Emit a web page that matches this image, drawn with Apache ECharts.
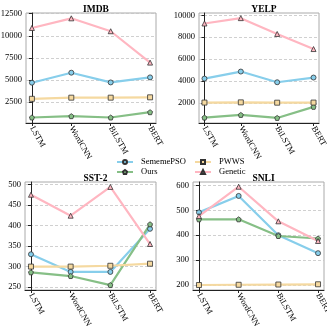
<!DOCTYPE html>
<html>
<head>
<meta charset="utf-8">
<script src="https://cdn.jsdelivr.net/npm/echarts@6/dist/echarts.min.js"></script>
<style>
  html, body { margin: 0; padding: 0; background: #fff; }
  #main { width: 327px; height: 329px; }
</style>
</head>
<body>
<div id="main"></div>
<script>
var categories = ["LSTM", "WordCNN", "BiLSTM", "BERT"];

// IMDB
var imdbSememePSO = [4700, 5830, 4730, 5300];
var imdbPWWS = [2880, 3010, 3010, 3050];
var imdbOurs = [770, 920, 770, 1370];
var imdbGenetic = [10880, 11970, 10510, 6970];
var imdbTicks = [2500, 5000, 7500, 10000, 12500];

// YELP
var yelpSememePSO = [4215, 4860, 3880, 4310];
var yelpPWWS = [2020, 2040, 2010, 2020];
var yelpOurs = [645, 890, 614, 1630];
var yelpGenetic = [9260, 9750, 8300, 6920];
var yelpTicks = [2000, 4000, 6000, 8000, 10000];

// SST-2
var sstSememePSO = [330, 287, 287, 392];
var sstPWWS = [300, 300, 302, 307];
var sstOurs = [286, 277, 255, 403];
var sstGenetic = [475, 424, 494, 355];
var sstTicks = [250, 300, 350, 400, 450, 500];

// SNLI
var snliSememePSO = [492, 558, 400, 328];
var snliPWWS = [200, 201, 202, 203];
var snliOurs = [464, 464, 397, 387];
var snliGenetic = [477, 595, 456, 377];
var snliTicks = [200, 300, 400, 500, 600];

var FONT = "Liberation Serif";
var pentagon = "path://M0,-10 L9.51,-3.09 L5.88,8.09 L-5.88,8.09 L-9.51,-3.09 Z";

var styles = {
  SememePSO: { color: "#87ceeb", symbol: "circle" },
  Ours: { color: "#86bf86", symbol: pentagon },
  PWWS: { color: "#f5d9a0", symbol: "rect" },
  Genetic: { color: "#ffb6c1", symbol: "triangle" }
};

var panels = [
  { title: "IMDB", grid: { left: 26, top: 13, right: 171, bottom: 206 }, yMin: 150, yMax: 12570, ticks: imdbTicks,
    data: { SememePSO: imdbSememePSO, Ours: imdbOurs, PWWS: imdbPWWS, Genetic: imdbGenetic } },
  { title: "YELP", grid: { left: 199, top: 13, right: 8, bottom: 206 }, yMin: 150, yMax: 10220, ticks: yelpTicks,
    data: { SememePSO: yelpSememePSO, Ours: yelpOurs, PWWS: yelpPWWS, Genetic: yelpGenetic } },
  { title: "SST-2", grid: { left: 25, top: 182, right: 171, bottom: 39 }, yMin: 243, yMax: 506, ticks: sstTicks,
    data: { SememePSO: sstSememePSO, Ours: sstOurs, PWWS: sstPWWS, Genetic: sstGenetic } },
  { title: "SNLI", grid: { left: 193, top: 182, right: 3, bottom: 39 }, yMin: 180, yMax: 614, ticks: snliTicks,
    data: { SememePSO: snliSememePSO, Ours: snliOurs, PWWS: snliPWWS, Genetic: snliGenetic } }
];

var order = ["SememePSO", "Ours", "PWWS", "Genetic"];
var catIdx = [0, 1, 2, 3];

var grids = [], xAxes = [], yAxes = [], titles = [], series = [];

panels.forEach(function (p, i) {
  grids.push({
    left: p.grid.left, top: p.grid.top, right: p.grid.right, bottom: p.grid.bottom,
    show: true, borderColor: "#aaa", borderWidth: 1, backgroundColor: "transparent",
    containLabel: false, outerBoundsMode: "none"
  });
  var cx = p.grid.left + (327 - p.grid.left - p.grid.right) / 2;
  titles.push({
    text: p.title, left: cx, top: p.grid.top - 13, textAlign: "center",
    textStyle: { fontFamily: FONT, fontWeight: "bold", fontSize: 9.5, color: "#000" }
  });
  xAxes.push({
    type: "value", gridIndex: i, min: -0.15, max: 3.15,
    axisLine: { show: true, lineStyle: { color: "#222", width: 1 } },
    axisTick: { show: true, length: 3, customValues: catIdx, lineStyle: { color: "#222" } },
    axisLabel: {
      customValues: catIdx, rotate: -60, margin: 4,
      fontFamily: FONT, fontSize: 8.5, color: "#000",
      formatter: function (v) { return categories[Math.round(v)]; }
    },
    splitLine: { show: false }
  });
  yAxes.push({
    type: "value", gridIndex: i, min: p.yMin, max: p.yMax,
    axisLine: { show: true, lineStyle: { color: "#222", width: 1 } },
    axisTick: { show: true, length: 3, customValues: p.ticks, lineStyle: { color: "#222" } },
    axisLabel: {
      customValues: p.ticks, margin: 4, fontFamily: FONT, fontSize: 8.5, color: "#000",
      formatter: function (v) { return String(v); }
    },
    splitLine: { show: true, lineStyle: { color: "#c4c4c4", type: [3, 2], width: 0.8 } }
  });
  order.forEach(function (name) {
    var st = styles[name];
    series.push({
      name: name, type: "line", xAxisIndex: i, yAxisIndex: i,
      data: p.data[name].map(function (v, k) { return [k, v]; }),
      symbol: st.symbol, symbolSize: 5,
      lineStyle: { color: st.color, width: 2.2 },
      itemStyle: { color: st.color, borderColor: "#333", borderWidth: 0.8 },
      showSymbol: true, animation: false
    });
  });
});

var legendText = { fontFamily: FONT, fontSize: 8.5, color: "#000", lineHeight: 10, padding: [0, 0, 0, 3] };

var chart = echarts.init(document.getElementById("main"));
chart.setOption({
  animation: false,
  title: titles,
  grid: grids,
  xAxis: xAxes,
  yAxis: yAxes,
  legend: [
    { data: ["SememePSO", "Ours"], orient: "vertical", left: 116, top: 157, itemWidth: 16, itemHeight: 5, itemGap: 0,
      textStyle: legendText, padding: 0 },
    { data: ["PWWS", "Genetic"], orient: "vertical", left: 194, top: 157, itemWidth: 16, itemHeight: 5, itemGap: 0,
      textStyle: legendText, padding: 0 }
  ],
  series: series
});
</script>
</body>
</html>
